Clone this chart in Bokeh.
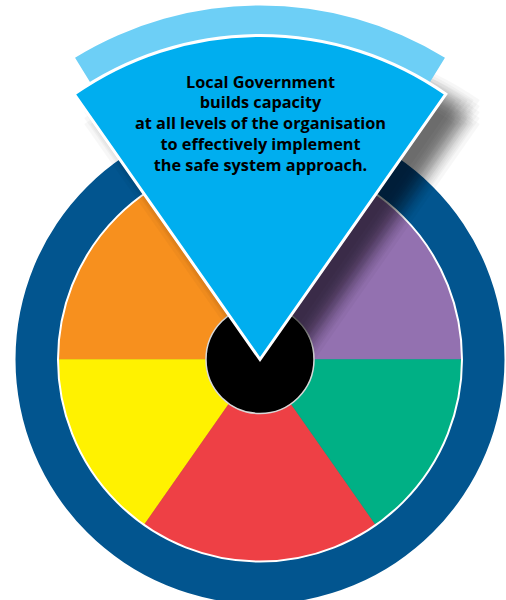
import numpy as np
from bokeh.plotting import figure
from bokeh.models import Range1d
from bokeh.embed import file_html
from bokeh.resources import INLINE
from bokeh.core.properties import value

# ---- data ----
segment_colors = ["#9371b0", "#f7901e", "#fff200", "#ee4045", "#00b085"]
segment_start_deg = [0, 125, 180, 235, 305]
segment_end_deg = [55, 180, 235, 305, 360]
focus_start_deg = 55
focus_end_deg = 125
focus_color = "#00aeef"
band_color = "#6dcff6"
ring_color = "#02558f"
hub_color = "#000000"
text_lines = [
    "Local Government",
    "builds capacity",
    "at all levels of the organisation",
    "to effectively implement",
    "the safe system approach.",
]

# ---- geometry / style ----
R_RING = 244.5
R_WHEEL = 202
R_HUB = 54
R_FOCUS = 324
R_BAND_IN, R_BAND_OUT = 318, 354
BAND_PAD = 3.5  # degrees narrower than focus wedge on each side

W, H = 506, 600
CX_IMG, CY_IMG = 259.5, 359.0
x0 = -CX_IMG
y1 = CY_IMG

p = figure(width=W, height=H, output_backend="svg", toolbar_location=None,
           x_range=Range1d(x0, x0 + W), y_range=Range1d(y1 - H, y1),
           min_border=0, outline_line_color=None)
p.axis.visible = False
p.grid.visible = False
p.background_fill_color = "white"
p.border_fill_color = "white"

# outer ring
p.circle(x=[0], y=[0], radius=R_RING, fill_color=ring_color, line_color=None)

# coloured segments
p.wedge(x=0, y=0, radius=R_WHEEL,
        start_angle=np.radians(segment_start_deg), end_angle=np.radians(segment_end_deg),
        fill_color=segment_colors, line_color=segment_colors, line_width=0.5)
p.circle(x=[0], y=[0], radius=R_WHEEL, fill_color=None, line_color="white", line_width=2)

# hub
p.circle(x=[0], y=[0], radius=R_HUB, fill_color=hub_color, line_color="#d8d8d8", line_width=1.5)

# drop shadow of focus wedge (layered to imitate blur)
offs = [10, 16, 22, 28, 34]
for dx in offs:
    for dy in offs:
        p.wedge(x=dx, y=-(dy - 4), radius=R_FOCUS,
                start_angle=np.radians(focus_start_deg), end_angle=np.radians(focus_end_deg),
                fill_color="black", fill_alpha=0.032, line_color=None)

# light band behind focus wedge
p.annular_wedge(x=0, y=0, inner_radius=R_BAND_IN, outer_radius=R_BAND_OUT,
                start_angle=np.radians(focus_start_deg + BAND_PAD),
                end_angle=np.radians(focus_end_deg - BAND_PAD),
                fill_color=band_color, line_color=None)

# focus wedge
p.wedge(x=0, y=0, radius=R_FOCUS,
        start_angle=np.radians(focus_start_deg), end_angle=np.radians(focus_end_deg),
        fill_color=focus_color, line_color="white", line_width=3, line_join="miter")

# text
ty = [278 - 20.75 * i for i in range(len(text_lines))]
p.text(x=[0.5] * len(text_lines), y=ty, text=text_lines,
       text_font=value("Open Sans"), text_font_style="bold", text_font_size="16.3px",
       text_align="center", text_baseline="middle", text_color="#000000")

open("out.html", "w").write(file_html(p, INLINE))
